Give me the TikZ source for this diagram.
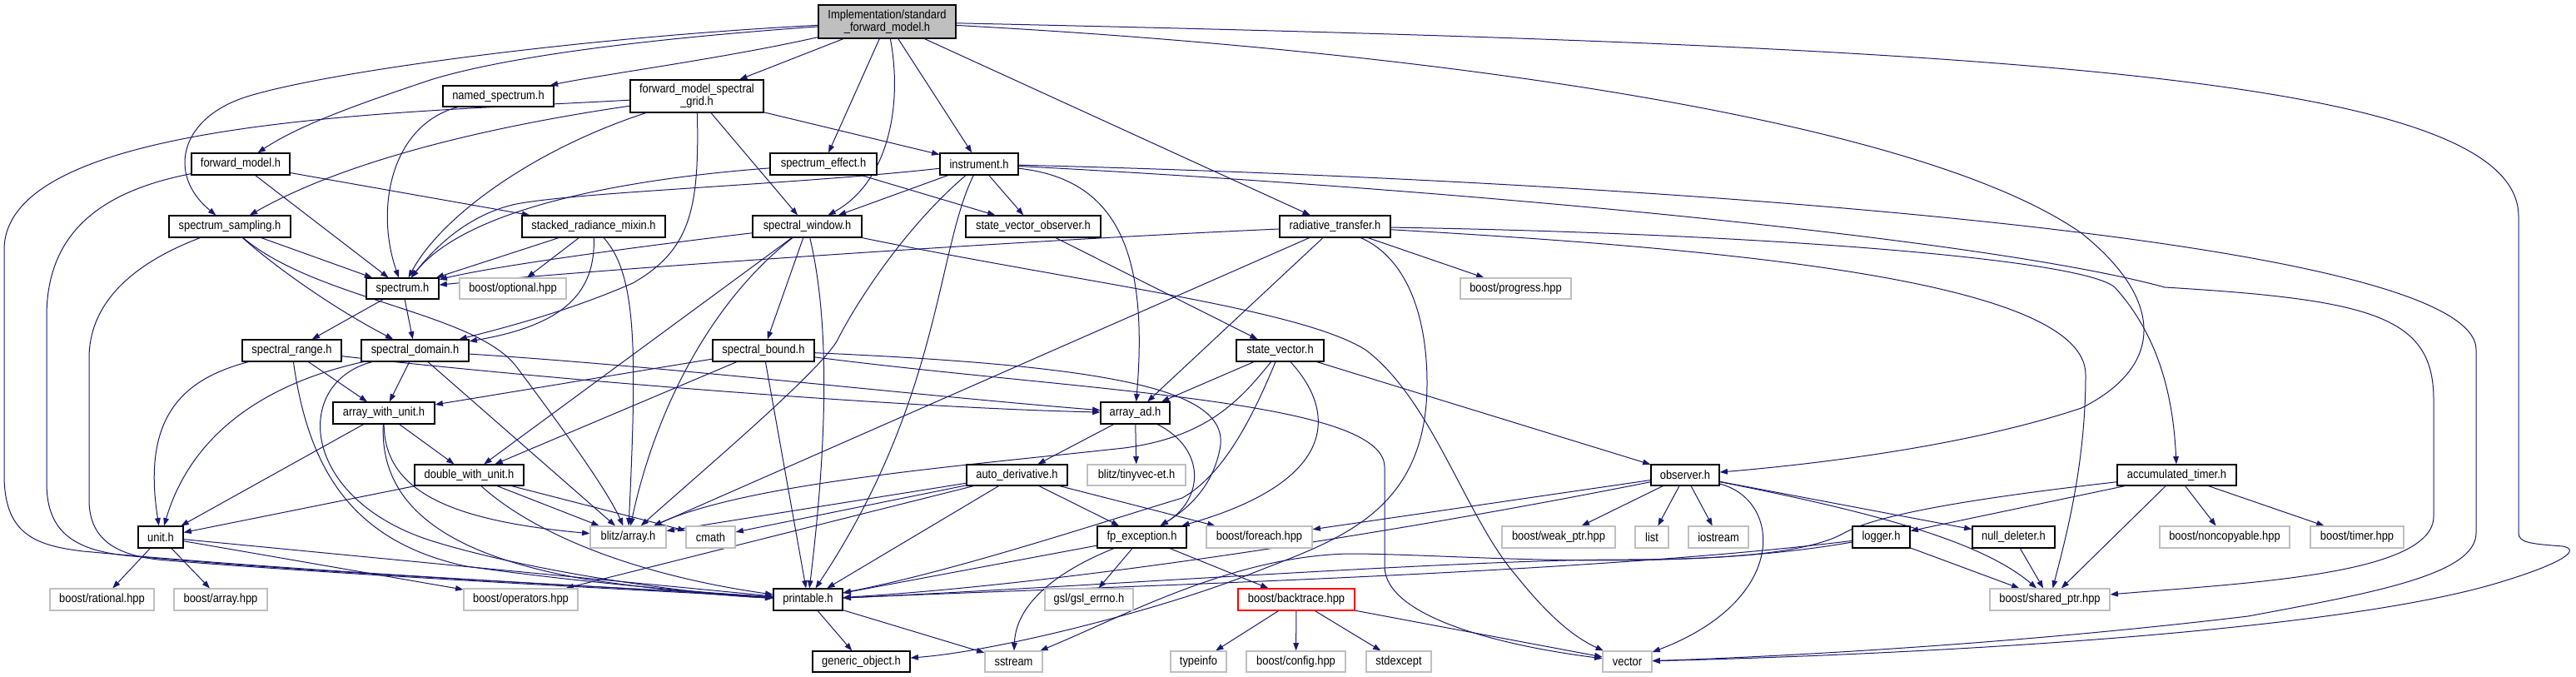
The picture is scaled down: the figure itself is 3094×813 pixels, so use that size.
\documentclass[tikz,border=0pt]{standalone}
\usepackage{fontspec}
\setmainfont{Liberation Sans}[FakeStretch=0.88]
\usetikzlibrary{arrows.meta}
\pgfdeclarelayer{bg}
\pgfsetlayers{bg,main}
\definecolor{edgecol}{HTML}{191970}
\definecolor{grayb}{HTML}{BFBFBF}
\newcommand\nb[7]{\node[#1, minimum width={(#4-#3)*0.75pt}, minimum height={(#6-#5)*0.75pt}] (#2) at ({(#3+#4)/2},{(#5+#6)/2}) {#7};}
\begin{document}
\begin{tikzpicture}[x=0.75pt,y=-0.75pt,
  base/.style={inner sep=0pt, fill=white, font=\fontsize{11}{11.5}\selectfont, align=center, line width=0.85pt},
  pbox/.style={base, draw=black},
  xbox/.style={base, draw=grayb},
  rbox/.style={base, draw=red},
  topbox/.style={base, draw=black, fill=grayb},
  ed/.style={draw=edgecol, line width=0.75pt, -{Triangle[length=7pt,width=5pt]}}]
\useasboundingbox (0,0) rectangle (3094,813);
\begin{pgfonlayer}{bg}
\fill[white] (0,0) rectangle (3094,813);
\end{pgfonlayer}
% nodes
\nb{topbox}{top}{983}{1148}{6}{46}{Implementation/standard\\\_forward\_model.h}
\nb{pbox}{named}{532}{665}{103}{128}{named\_spectrum.h}
\nb{pbox}{fmsg}{757}{917}{96}{135}{forward\_model\_spectral\\\_grid.h}
\nb{pbox}{fm}{230}{348}{184}{210}{forward\_model.h}
\nb{pbox}{seff}{925}{1053}{184}{210}{spectrum\_effect.h}
\nb{pbox}{instr}{1129}{1223}{184}{210}{instrument.h}
\nb{pbox}{ssamp}{203}{349}{259}{285}{spectrum\_sampling.h}
\nb{pbox}{srm}{627}{799}{259}{285}{stacked\_radiance\_mixin.h}
\nb{pbox}{swin}{904}{1035}{259}{285}{spectral\_window.h}
\nb{pbox}{svo}{1160}{1322}{259}{285}{state\_vector\_observer.h}
\nb{pbox}{rt}{1537}{1670}{259}{285}{radiative\_transfer.h}
\nb{pbox}{spectrum}{440}{527}{334}{359}{spectrum.h}
\nb{xbox}{bopt}{552}{680}{334}{359}{boost/optional.hpp}
\nb{xbox}{bprog}{1754}{1887}{334}{359}{boost/progress.hpp}
\nb{pbox}{srange}{291}{410}{408}{434}{spectral\_range.h}
\nb{pbox}{sdom}{434}{563}{408}{434}{spectral\_domain.h}
\nb{pbox}{sbound}{856}{978}{408}{434}{spectral\_bound.h}
\nb{pbox}{sv}{1485}{1590}{408}{434}{state\_vector.h}
\nb{pbox}{awu}{400}{522}{483}{509}{array\_with\_unit.h}
\nb{pbox}{aad}{1322}{1405}{483}{509}{array\_ad.h}
\nb{pbox}{dwu}{498}{629}{558}{583}{double\_with\_unit.h}
\nb{pbox}{autod}{1161}{1282}{558}{583}{auto\_derivative.h}
\nb{xbox}{tinyvec}{1306}{1424}{558}{583}{blitz/tinyvec-et.h}
\nb{pbox}{obs}{1983}{2065}{558}{583}{observer.h}
\nb{pbox}{acct}{2543}{2686}{558}{583}{accumulated\_timer.h}
\nb{pbox}{unit}{166}{220}{632}{658}{unit.h}
\nb{xbox}{blitz}{709}{800}{632}{658}{blitz/array.h}
\nb{xbox}{cmath}{824}{883}{632}{658}{cmath}
\nb{xbox}{bforeach}{1449}{1576}{632}{658}{boost/foreach.hpp}
\nb{pbox}{fpe}{1318}{1425}{632}{658}{fp\_exception.h}
\nb{xbox}{weak}{1804}{1940}{632}{658}{boost/weak\_ptr.hpp}
\nb{xbox}{list}{1964}{2004}{632}{658}{list}
\nb{xbox}{iostream}{2028}{2100}{632}{658}{iostream}
\nb{pbox}{logger}{2225}{2294}{632}{658}{logger.h}
\nb{pbox}{nulld}{2369}{2468}{632}{658}{null\_deleter.h}
\nb{xbox}{noncopy}{2594}{2750}{632}{658}{boost/noncopyable.hpp}
\nb{xbox}{btimer}{2775}{2887}{632}{658}{boost/timer.hpp}
\nb{xbox}{brational}{60}{185}{707}{733}{boost/rational.hpp}
\nb{xbox}{barray}{209}{321}{707}{733}{boost/array.hpp}
\nb{xbox}{bops}{557}{694}{707}{733}{boost/operators.hpp}
\nb{pbox}{printable}{929}{1012}{707}{733}{printable.h}
\nb{xbox}{gsl}{1255}{1361}{707}{733}{gsl/gsl\_errno.h}
\nb{rbox}{bbt}{1487}{1627}{707}{733}{boost/backtrace.hpp}
\nb{xbox}{sharedptr}{2390}{2534}{707}{733}{boost/shared\_ptr.hpp}
\nb{pbox}{genobj}{976}{1093}{782}{807}{generic\_object.h}
\nb{xbox}{sstream}{1183}{1252}{782}{807}{sstream}
\nb{xbox}{typeinfo}{1406}{1473}{782}{807}{typeinfo}
\nb{xbox}{bconfig}{1497}{1616}{782}{807}{boost/config.hpp}
\nb{xbox}{stdexcept}{1641}{1719}{782}{807}{stdexcept}
\nb{xbox}{vector}{1925}{1984}{782}{807}{vector}
% edges
\begin{pgfonlayer}{bg}
% top
\draw[ed] (top) .. controls (870,70) and (720,90) .. (named);
\draw[ed] (top) -- (fmsg);
\draw[ed] (top) .. controls (800,45) and (620,65) .. (520,95) .. controls (430,125) and (360,150) .. (fm);
\draw[ed] (top) .. controls (700,45) and (400,85) .. (300,115) .. controls (215,140) and (200,210) .. (ssamp);
\draw[ed] (top) -- (seff);
\draw[ed] (top) .. controls (1085,130) and (1065,220) .. (swin);
\draw[ed] (top) -- (instr);
\draw[ed] (top) -- (rt);
\draw[ed] (top) .. controls (1700,60) and (2300,140) .. (2500,280) .. controls (2600,360) and (2600,440) .. (2500,490) .. controls (2350,540) and (2150,560) .. (obs);
\draw[ed] (top) .. controls (2400,55) and (3025,90) .. (3025,260) -- (3025,640) .. controls (3025,652) and (3040,653) .. (3078,656) .. controls (3100,660) and (3080,676) .. (3000,700) .. controls (2800,760) and (2300,786) .. (vector);
% named
\draw[ed] (named) .. controls (470,150) and (450,250) .. (spectrum);
% fmsg
\draw[ed] (fmsg) .. controls (500,135) and (5,140) .. (5,300) -- (5,570) .. controls (5,640) and (40,655) .. (100,662) .. controls (400,690) and (800,708) .. (printable);
\draw[ed] (fmsg) .. controls (600,150) and (420,190) .. (ssamp);
\draw[ed] (fmsg) .. controls (640,180) and (530,260) .. (spectrum);
\draw[ed] (fmsg) -- (swin);
\draw[ed] (fmsg) -- (instr);
\draw[ed] (fmsg) .. controls (840,250) and (830,300) .. (760,340) .. controls (680,375) and (600,395) .. (sdom);
% fm
\draw[ed] (fm) .. controls (120,230) and (56,280) .. (56,380) -- (56,580) .. controls (56,640) and (90,662) .. (160,668) .. controls (400,690) and (800,708) .. (printable);
\draw[ed] (fm) -- (spectrum);
\draw[ed] (fm) -- (srm);
% seff
\draw[ed] (seff) .. controls (750,215) and (560,250) .. (spectrum);
\draw[ed] (seff) -- (svo);
% instr
\draw[ed] (instr) .. controls (950,222) and (700,230) .. (620,245) .. controls (560,258) and (520,300) .. (spectrum);
\draw[ed] (instr) -- (swin);
\draw[ed] (instr) -- (svo);
\draw[ed] (instr) .. controls (1340,215) and (1380,300) .. (aad);
\draw[ed] (instr) .. controls (1090,270) and (1030,360) .. (1005,410) .. controls (980,450) and (850,560) .. (blitz);
\draw[ed] (instr) .. controls (1125,300) and (1130,480) .. (printable);
\draw[ed] (instr) .. controls (1900,215) and (2974,280) .. (2974,420) -- (2974,640) .. controls (2974,690) and (2850,712) .. (2700,740) .. controls (2400,776) and (2100,790) .. (vector);
\draw[ed] (instr) .. controls (1800,230) and (2400,290) .. (2600,345) .. controls (2850,360) and (2923,380) .. (2923,480) -- (2923,620) .. controls (2923,690) and (2700,700) .. (sharedptr);
% rt
\draw[ed] (rt) .. controls (1200,290) and (700,325) .. (spectrum);
\draw[ed] (rt) -- (blitz);
\draw[ed] (rt) -- (aad);
\draw[ed] (rt) .. controls (1690,310) and (1714,380) .. (1714,460) .. controls (1714,620) and (1600,650) .. (1500,690) .. controls (1400,730) and (1200,782) .. (genobj);
\draw[ed] (rt) -- (bprog);
\draw[ed] (rt) .. controls (2100,280) and (2500,310) .. (2540,345) .. controls (2590,400) and (2610,470) .. (acct);
\draw[ed] (rt) .. controls (2100,300) and (2505,340) .. (2505,450) .. controls (2505,560) and (2480,650) .. (sharedptr);
% spectrum
\draw[ed] (spectrum) -- (srange);
\draw[ed] (spectrum) -- (sdom);
% srm
\draw[ed] (srm) -- (spectrum);
\draw[ed] (srm) -- (bopt);
\draw[ed] (srm) .. controls (715,350) and (680,390) .. (sdom);
\draw[ed] (srm) .. controls (765,330) and (765,420) .. (blitz);
% ssamp
\draw[ed] (ssamp) .. controls (150,320) and (107,370) .. (107,430) -- (107,600) .. controls (107,645) and (135,668) .. (200,673) .. controls (450,693) and (800,710) .. (printable);
\draw[ed] (ssamp) -- (spectrum);
\draw[ed] (ssamp) .. controls (330,320) and (400,370) .. (sdom);
\draw[ed] (ssamp) .. controls (380,360) and (570,375) .. (620,440) .. controls (680,520) and (730,590) .. (blitz);
% svo
\draw[ed] (svo) -- (sv);
% srange
\draw[ed] (srange) .. controls (220,455) and (170,500) .. (unit);
\draw[ed] (srange) -- (awu);
\draw[ed] (srange) .. controls (370,560) and (420,650) .. (560,680) .. controls (700,700) and (850,712) .. (printable);
\draw[ed] (srange) .. controls (700,460) and (1100,490) .. (aad);
% sdom
\draw[ed] (sdom) .. controls (320,460) and (230,520) .. (unit);
\draw[ed] (sdom) -- (awu);
\draw[ed] (sdom) -- (blitz);
\draw[ed] (sdom) .. controls (350,460) and (360,600) .. (520,650) .. controls (650,690) and (850,715) .. (printable);
\draw[ed] (sdom) .. controls (800,440) and (1100,475) .. (aad);
% sbound
\draw[ed] (sbound) -- (awu);
\draw[ed] (sbound) -- (dwu);
\draw[ed] (sbound) -- (printable);
\draw[ed] (sbound) .. controls (1350,440) and (1480,470) .. (1465,540) .. controls (1455,590) and (1420,615) .. (fpe);
\draw[ed] (sbound) .. controls (1300,470) and (1660,480) .. (1663,560) -- (1663,680) .. controls (1663,740) and (1800,775) .. (vector);
% swin
\draw[ed] (swin) .. controls (800,292) and (600,318) .. (spectrum);
\draw[ed] (swin) -- (sbound);
\draw[ed] (swin) -- (dwu);
\draw[ed] (swin) .. controls (850,365) and (785,500) .. (blitz);
\draw[ed] (swin) .. controls (1000,400) and (990,560) .. (printable);
\draw[ed] (swin) .. controls (1300,340) and (1560,370) .. (1640,420) .. controls (1720,480) and (1760,620) .. (1820,690) .. controls (1860,740) and (1890,765) .. (vector);
% sv
\draw[ed] (sv) -- (aad);
\draw[ed] (sv) .. controls (1490,480) and (1450,525) .. (1350,538) .. controls (1150,560) and (900,580) .. (blitz);
\draw[ed] (sv) .. controls (1505,500) and (1470,570) .. (1420,598) .. controls (1330,625) and (1150,685) .. (printable);
\draw[ed] (sv) .. controls (1610,500) and (1600,580) .. (fpe);
\draw[ed] (sv) -- (obs);
% awu
\draw[ed] (awu) -- (unit);
\draw[ed] (awu) -- (dwu);
\draw[ed] (awu) .. controls (462,590) and (540,625) .. (blitz);
\draw[ed] (awu) .. controls (455,620) and (560,670) .. (700,695) .. controls (800,710) and (880,716) .. (printable);
% dwu
\draw[ed] (dwu) -- (unit);
\draw[ed] (dwu) -- (blitz);
\draw[ed] (dwu) -- (cmath);
\draw[ed] (dwu) .. controls (640,640) and (760,690) .. (printable);
% aad
\draw[ed] (aad) -- (autod);
\draw[ed] (aad) -- (tinyvec);
\draw[ed] (aad) .. controls (1450,540) and (1445,600) .. (fpe);
% autod
\draw[ed] (autod) -- (blitz);
\draw[ed] (autod) -- (cmath);
\draw[ed] (autod) -- (bops);
\draw[ed] (autod) -- (printable);
\draw[ed] (autod) -- (fpe);
\draw[ed] (autod) -- (bforeach);
% fpe
\draw[ed] (fpe) -- (printable);
\draw[ed] (fpe) .. controls (1260,690) and (1220,730) .. (sstream);
\draw[ed] (fpe) -- (gsl);
\draw[ed] (fpe) -- (bbt);
% bbt
\draw[ed] (bbt) -- (typeinfo);
\draw[ed] (bbt) -- (bconfig);
\draw[ed] (bbt) -- (stdexcept);
\draw[ed] (bbt) -- (vector);
% printable
\draw[ed] (printable) -- (genobj);
\draw[ed] (printable) -- (sstream);
% unit
\draw[ed] (unit) -- (brational);
\draw[ed] (unit) -- (barray);
\draw[ed] (unit) -- (bops);
\draw[ed] (unit) -- (printable);
% obs
\draw[ed] (obs) -- (bforeach);
\draw[ed] (obs) .. controls (1700,635) and (1300,700) .. (printable);
\draw[ed] (obs) -- (weak);
\draw[ed] (obs) -- (list);
\draw[ed] (obs) -- (iostream);
\draw[ed] (obs) .. controls (2140,600) and (2150,720) .. (vector);
\draw[ed] (obs) -- (nulld);
\draw[ed] (obs) .. controls (2250,615) and (2380,650) .. (sharedptr);
% acct
\draw[ed] (acct) .. controls (2400,595) and (2260,615) .. (2215,640) .. controls (2180,660) and (2100,672) .. (1950,672) .. controls (1750,672) and (1300,705) .. (printable);
\draw[ed] (acct) -- (logger);
\draw[ed] (acct) -- (sharedptr);
\draw[ed] (acct) -- (noncopy);
\draw[ed] (acct) -- (btimer);
% logger
\draw[ed] (logger) .. controls (1900,690) and (1300,705) .. (printable);
\draw[ed] (logger) .. controls (2000,690) and (1750,665) .. (1620,665) .. controls (1480,668) and (1350,740) .. (sstream);
\draw[ed] (logger) -- (sharedptr);
% nulld
\draw[ed] (nulld) -- (sharedptr);
\end{pgfonlayer}
\end{tikzpicture}
\end{document}
